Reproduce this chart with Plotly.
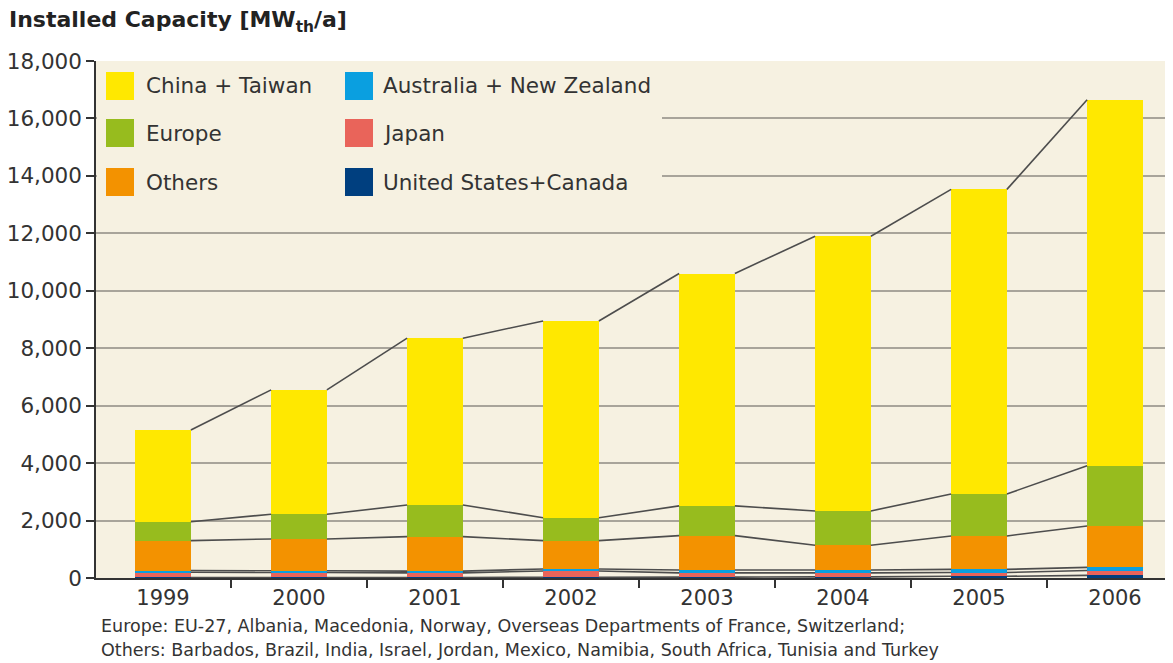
import plotly.graph_objects as go

years = ["1999", "2000", "2001", "2002", "2003", "2004", "2005", "2006"]

# stacked from the bottom up (MWth per year)
us_canada = [20, 20, 20, 25, 30, 40, 60, 90]
japan = [180, 170, 160, 220, 150, 140, 130, 170]
australia = [60, 60, 60, 70, 100, 100, 110, 110]
others = [1040, 1110, 1200, 985, 1195, 860, 1165, 1440]
europe = [660, 860, 1100, 800, 1035, 1195, 1460, 2100]
china_taiwan = [3190, 4330, 5810, 6850, 8090, 9565, 10605, 12740]

series = [
    ("United States+Canada", us_canada, "#003f7f"),
    ("Japan", japan, "#e9645a"),
    ("Australia + New Zealand", australia, "#0a9fe0"),
    ("Others", others, "#f39200"),
    ("Europe", europe, "#97bc1e"),
    ("China + Taiwan", china_taiwan, "#ffe800"),
]

# legend layout as in the source: two columns, three rows
legend_cols = [["China + Taiwan", "Europe", "Others"],
               ["Australia + New Zealand", "Japan", "United States+Canada"]]

W, H = 1173, 663
OFF = 8                        # default body margin of the html page
L, T, B = 96, 61, 578          # plot area in window pixels
PW, PH = W - L, B - T
BAR_W = 0.41
FONT = "DejaVu Sans"
CREAM = "#f6f1e1"

def px(x):
    return (x - L) / PW

def py(y):
    return (B - y) / PH

fig = go.Figure()
idx = list(range(len(years)))

for name, vals, col in series:
    fig.add_trace(go.Bar(x=idx, y=vals, name=name, marker_color=col,
                         marker_line_width=0, width=BAR_W, showlegend=False))

# series lines joining the top of each layer between neighbouring bars
cum = [0] * len(years)
for name, vals, col in series:
    cum = [c + v for c, v in zip(cum, vals)]
    xs, ys = [], []
    for i in range(len(years) - 1):
        xs += [i + BAR_W / 2, i + 1 - BAR_W / 2, None]
        ys += [cum[i], cum[i + 1], None]
    fig.add_trace(go.Scatter(x=xs, y=ys, mode="lines", showlegend=False,
                             line=dict(color="#4d4d4d", width=1.6),
                             hoverinfo="skip"))

colors = {n: c for n, _, c in series}
shapes = [dict(type="rect", xref="paper", yref="paper", layer="above",
               x0=px(L + 1), x1=px(662), y0=py(206), y1=py(T + 1),
               fillcolor=CREAM, line_width=0)]
annotations = []
col_x = [(106, 144), (345, 381)]
row_y = [86, 133, 182]
for (sx, tx), names in zip(col_x, legend_cols):
    for ry, n in zip(row_y, names):
        shapes.append(dict(type="rect", xref="paper", yref="paper", layer="above",
                           x0=px(sx), x1=px(sx + 28), y0=py(ry + 14), y1=py(ry - 14),
                           fillcolor=colors[n], line_width=0))
        annotations.append(dict(x=px(tx), y=py(ry), xref="paper", yref="paper",
                                text=n, showarrow=False, xanchor="left",
                                yanchor="middle",
                                font=dict(family=FONT, size=21.5, color="#333")))

annotations.append(dict(x=px(7), y=py(22), xref="paper", yref="paper",
                        text="<b>Installed Capacity [MW<sub>th</sub>/a]</b>",
                        showarrow=False, xanchor="left", yanchor="middle",
                        font=dict(family=FONT, size=22, color="#222")))
notes = ["Europe: EU-27, Albania, Macedonia, Norway, Overseas Departments of France, Switzerland;",
         "Others: Barbados, Brazil, India, Israel, Jordan, Mexico, Namibia, South Africa, Tunisia and Turkey"]
for ny, t in zip([626, 650], notes):
    annotations.append(dict(x=px(99), y=py(ny), xref="paper", yref="paper",
                            text=t, showarrow=False, xanchor="left",
                            yanchor="middle",
                            font=dict(family=FONT, size=17.5, color="#333")))

fig.update_layout(
    width=W - OFF, height=H - OFF,
    margin=dict(l=L - OFF, r=0, t=T - OFF, b=H - B),
    paper_bgcolor="white", plot_bgcolor=CREAM,
    barmode="stack", bargap=0,
    font=dict(family=FONT, size=21, color="#333"),
    shapes=shapes, annotations=annotations,
)
fig.update_xaxes(range=[(L - 163) / 136, (W - 163) / 136],
                 tickmode="array", tickvals=idx, ticktext=years,
                 tickfont=dict(size=21),
                 ticks="", showgrid=False, zeroline=False,
                 minor=dict(tickmode="array", tickvals=[i + 0.5 for i in idx[:-1]],
                            ticks="outside", ticklen=8, tickcolor="#333",
                            tickwidth=1.5, showgrid=False),
                 showline=True, linecolor="#333", linewidth=1.5)
fig.update_yaxes(range=[0, 18000], dtick=2000, tickformat=",",
                 tickfont=dict(size=21.5),
                 ticks="outside", ticklen=8, tickcolor="#333", tickwidth=1.5,
                 showgrid=True, gridcolor="#a8a49a", gridwidth=1.5,
                 zeroline=False, showline=True, linecolor="#333", linewidth=1.5)

fig.write_html("out.html")
